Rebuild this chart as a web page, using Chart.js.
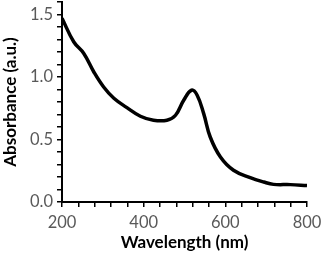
<!DOCTYPE html>
<html>
<head>
<meta charset="utf-8">
<script src="https://cdn.jsdelivr.net/npm/chart.js@4"></script>
<style>
  html, body { margin: 0; padding: 0; background: #fff; }
  #wrap { width: 323px; height: 253px; }
</style>
</head>
<body>
<div id="wrap"><canvas id="spec"></canvas></div>
<script>
// absorbance spectrum
const wavelength = [200, 229, 253, 278, 302, 327, 359, 392, 424, 457, 478, 498, 517, 531, 547, 563, 588, 620, 661, 694, 718, 759, 800];
const absorbance = [1.47, 1.28, 1.19, 1.04, 0.92, 0.83, 0.755, 0.686, 0.654, 0.654, 0.694, 0.814, 0.894, 0.854, 0.707, 0.52, 0.36, 0.254, 0.195, 0.16, 0.141, 0.139, 0.131];
const xLabels = [200, 400, 600, 800];
const yLabels = [0, 0.5, 1.0, 1.5];

const ctx = document.getElementById("spec").getContext("2d");

const tickFont = { family: "Lato", size: 16.5 };
const titleFont = { family: "Lato", size: 17, weight: "bold" };

const spectrum = new Chart(ctx, {
    type: "line",
    data: {
        datasets: [
            {
                label: "Absorbance",
                data: wavelength.map((w, i) => ({ x: w, y: absorbance[i] })),
                borderColor: "#000",
                borderWidth: 3.5,
                pointRadius: 0,
                tension: 0.4,
                fill: false,
            },
        ],
    },
    options: {
        responsive: true,
        maintainAspectRatio: false,
        animation: false,
        layout: {
            padding: { top: 2, right: 16, left: 0, bottom: 0 },
        },
        plugins: {
            legend: { display: false },
            tooltip: { enabled: false },
        },
        scales: {
            x: {
                type: "linear",
                min: 200,
                max: 800,
                grid: {
                    drawOnChartArea: false,
                    color: "#000",
                    tickLength: 5,
                    lineWidth: 1.5,
                },
                border: { color: "#000", width: 2 },
                ticks: {
                    stepSize: 40,
                    autoSkip: false,
                    maxRotation: 0,
                    color: "#595959",
                    font: tickFont,
                    padding: 6,
                    callback: (v) => (xLabels.includes(v) ? String(v) : ""),
                },
                title: {
                    display: true,
                    text: "Wavelength (nm)",
                    color: "#000",
                    font: titleFont,
                    padding: { top: -6, bottom: 0 },
                },
                afterFit: (scale) => {
                    scale.height = 51;
                    scale.paddingRight = 0;
                    scale.paddingLeft = 0;
                },
            },
            y: {
                min: 0,
                max: 1.6,
                grid: {
                    drawOnChartArea: false,
                    color: "#000",
                    tickLength: 5,
                    lineWidth: 1.5,
                },
                border: { color: "#000", width: 2 },
                ticks: {
                    stepSize: 0.1,
                    autoSkip: false,
                    color: "#595959",
                    font: tickFont,
                    padding: 4,
                    callback: (v) => {
                        const r = Math.round(v * 10) / 10;
                        return yLabels.includes(r) ? r.toFixed(1) : "";
                    },
                },
                title: {
                    display: true,
                    text: "Absorbance (a.u.)",
                    color: "#000",
                    font: titleFont,
                    padding: { top: 0, bottom: 0 },
                },
                afterFit: (scale) => {
                    scale.width = 62;
                    scale.paddingTop = 0;
                    scale.paddingBottom = 0;
                },
            },
        },
    },
});
</script>
</body>
</html>
